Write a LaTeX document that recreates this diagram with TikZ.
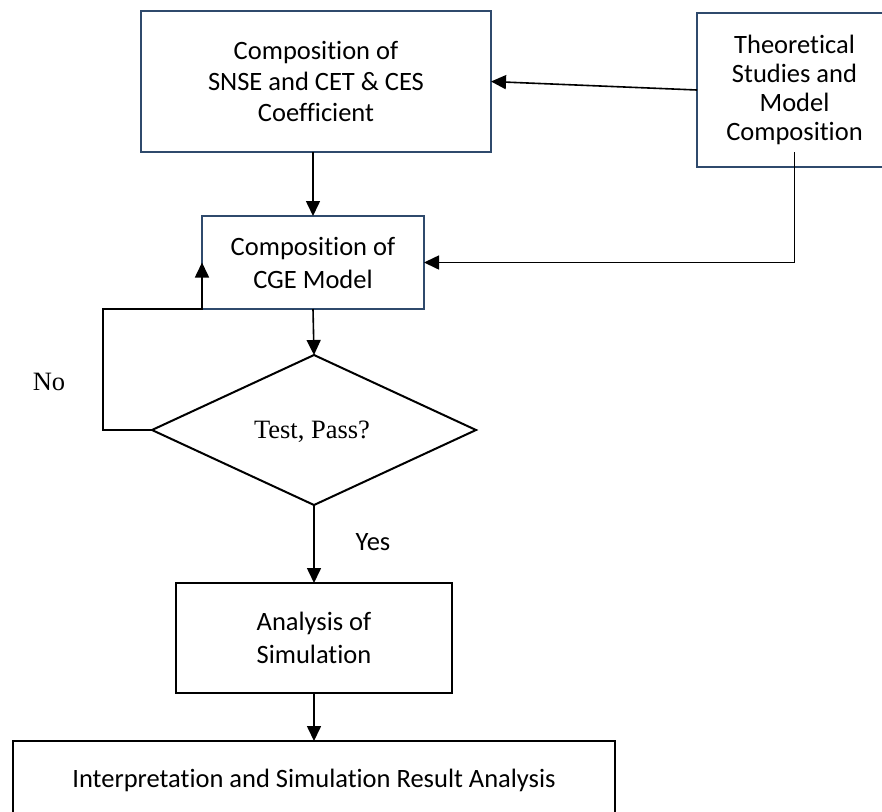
\documentclass[tikz,border=0pt]{standalone}
\usepackage{fontspec}
\setmainfont{Carlito}[Ligatures={NoCommon}]
\newfontfamily\timesfont{Liberation Serif}
\usetikzlibrary{arrows.meta,shapes.geometric,calc}
\definecolor{boxblue}{RGB}{47,74,108}
\begin{document}
\begin{tikzpicture}[x=1pt,y=-1pt,
  bluebox/.style={draw=boxblue,line width=2.4pt,rectangle,inner sep=0pt,outer sep=0pt,align=center,
    font=\fontsize{26.5}{31}\selectfont},
  blackbox/.style={draw=black,line width=2.4pt,rectangle,inner sep=0pt,outer sep=0pt,align=center,
    font=\fontsize{26.5}{33}\selectfont},
  conn/.style={draw=black,line width=1.6pt},
  arr/.style={conn,-{Triangle[length=15pt,width=14pt]}},
  lbl/.style={inner sep=0pt,font=\fontsize{26.5}{31}\selectfont}]
\useasboundingbox (0,0) rectangle (882,811);
\node[bluebox,minimum width=350pt,minimum height=141pt] (sn) at (316,81.5)
  {Composition of\\SNSE and CET \& CES\\Coefficient};
\node[bluebox,minimum width=195pt,minimum height=154pt,font=\fontsize{26.5}{29}\selectfont] (theo) at (794.5,90)
  {Theoretical\\Studies and\\Model\\Composition};
\node[bluebox,minimum width=222pt,minimum height=93pt,font=\fontsize{26.5}{33}\selectfont] (cge) at (313,262.5)
  {Composition of\\CGE Model};
\node[draw=black,line width=2pt,shape=diamond,inner sep=0pt,outer sep=0pt,
  minimum width=324pt,minimum height=150pt] (test) at (314,430) {};
\node[inner sep=0pt,font=\timesfont\fontsize{26.5}{31}\selectfont] (testlbl) at (312,432) {Test, Pass?};
\node[blackbox,minimum width=276pt,minimum height=110pt] (ana) at (314,638)
  {Analysis of\\Simulation};
\node[blackbox,minimum width=602pt,minimum height=79pt] (res) at (314,780.5)
  {Interpretation and Simulation Result Analysis};
\node[lbl,font=\timesfont\fontsize{26.5}{31}\selectfont] (no) at (49,382) {No};
\node[lbl] (yes) at (373,542) {Yes};
\draw[arr] (theo.west) -- (sn.east);
\draw[arr] (sn.south -| cge.north) -- (cge.north);
\draw[arr] ([yshift=15pt]theo.south) |- (cge.east);
\draw[arr] (cge.south) -- (test.north);
\draw[arr] (test.west) -- ++(-49,0) |- (cge.south west) -- (cge.west);
\draw[arr] (test.south) -- (ana.north);
\draw[arr] (ana.south) -- (res.north);
\end{tikzpicture}
\end{document}
